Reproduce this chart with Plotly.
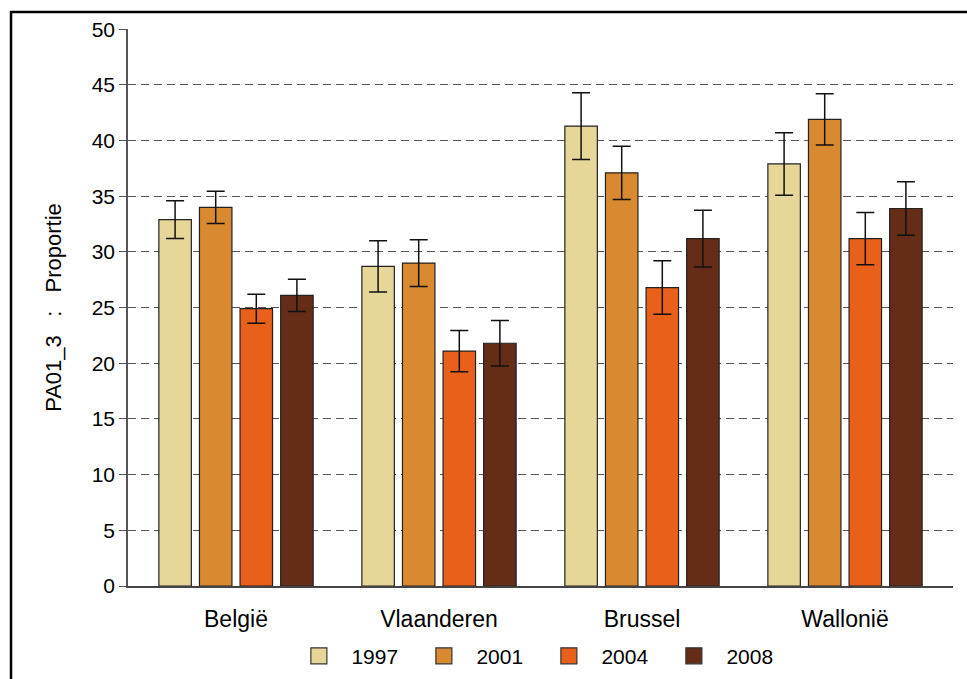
import plotly.graph_objects as go

regions = ["België", "Vlaanderen", "Brussel", "Wallonië"]
years = ["1997", "2001", "2004", "2008"]

values = {
    "1997": [32.9, 28.7, 41.3, 37.9],
    "2001": [34.0, 29.0, 37.1, 41.9],
    "2004": [24.9, 21.1, 26.8, 31.2],
    "2008": [26.1, 21.8, 31.2, 33.9],
}
errors = {
    "1997": [1.7, 2.3, 3.0, 2.8],
    "2001": [1.45, 2.1, 2.4, 2.3],
    "2004": [1.3, 1.85, 2.4, 2.35],
    "2008": [1.45, 2.05, 2.55, 2.4],
}
colors = {
    "1997": "#E6D799",
    "2001": "#D9892F",
    "2004": "#E8601A",
    "2008": "#652D17",
}

y_ticks = list(range(0, 51, 5))
nb = "\u00a0"
y_title = f"PA01_3{nb*3}:{nb*3}Proportie"

fig = go.Figure()
for yr in years:
    fig.add_trace(go.Bar(
        name=yr,
        x=list(range(len(regions))),
        y=values[yr],
        showlegend=False,
        marker=dict(color=colors[yr], line=dict(color="#222222", width=1.2)),
        error_y=dict(type="data", array=errors[yr], visible=True,
                     color="#111111", thickness=1.5, width=9),
    ))

# legend entries with larger square swatches
for yr in years:
    fig.add_trace(go.Scatter(
        name=yr, x=[None], y=[None], mode="markers",
        marker=dict(symbol="square", size=18, color=colors[yr],
                    line=dict(color="#333333", width=1.2)),
    ))

font = "Liberation Sans, Arial, sans-serif"

fig.update_layout(
    width=967, height=679,
    margin=dict(l=128, r=14, t=29, b=93, autoexpand=False),
    paper_bgcolor="white", plot_bgcolor="white",
    barmode="group", bargap=0.2, bargroupgap=0.2,
    font=dict(family=font, size=21, color="black"),
    showlegend=True,
    legend=dict(orientation="h", x=0.495, xanchor="center", y=-0.126, yanchor="middle",
                font=dict(size=21), itemwidth=55, entrywidth=55,
                itemsizing="trace", traceorder="normal"),
    xaxis=dict(
        tickmode="array", tickvals=list(range(len(regions))), ticktext=regions,
        range=[-0.532, 3.532], showgrid=False, zeroline=False,
        showline=True, linecolor="#444444", linewidth=1.5, ticks="",
        tickfont=dict(size=23), ticklabelstandoff=12,
    ),
    yaxis=dict(
        range=[0, 50.02], tickvals=y_ticks, showgrid=True,
        gridcolor="#555555", gridwidth=1.3, griddash="8px,5px",
        zeroline=False, showline=True, linecolor="#555555", linewidth=1.5,
        ticks="outside", ticklen=7, tickcolor="#555555", tickwidth=1.3,
        tickfont=dict(size=21),
        title=dict(text=y_title, font=dict(size=22), standoff=24),
    ),
    shapes=[dict(type="rect", xref="paper", yref="paper",
                 x0=-0.1418, x1=1.1, y0=-0.3, y1=1.0305,
                 line=dict(color="black", width=2.5), layer="above")],
)

fig.write_html("out.html")
